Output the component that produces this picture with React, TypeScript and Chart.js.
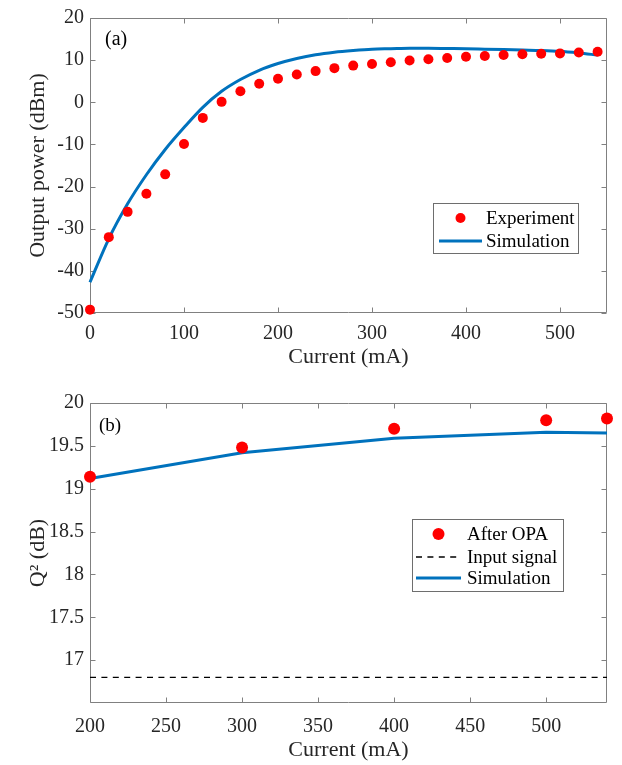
import React, { useEffect, useRef } from 'react';
import { Chart, registerables } from 'chart.js';

Chart.register(...registerables);

// ---------- Panel (a) data ----------
const currentA = [0, 20, 40, 60, 80, 100, 120, 140, 160, 180, 200, 220, 240, 260, 280, 300, 320, 340, 360, 380, 400, 420, 440, 460, 480, 500, 520, 540];
const experimentA = [-49.2, -32.0, -26.0, -21.7, -17.1, -9.9, -3.7, 0.1, 2.6, 4.4, 5.6, 6.6, 7.4, 8.1, 8.7, 9.1, 9.5, 9.9, 10.2, 10.5, 10.8, 11.0, 11.2, 11.4, 11.5, 11.6, 11.8, 12.0];
const simulationA = [-42.7, -32.4, -24.1, -17.2, -11.2, -6.0, -1.2, 2.6, 5.4, 7.6, 9.2, 10.4, 11.3, 11.9, 12.3, 12.6, 12.7, 12.8, 12.8, 12.75, 12.7, 12.6, 12.5, 12.4, 12.3, 12.1, 11.7, 11.2];
const xTicksA = [0, 100, 200, 300, 400, 500];
const yTicksA = [-50, -40, -30, -20, -10, 0, 10, 20];

// ---------- Panel (b) data ----------
const currentB = [200, 300, 400, 500, 540];
const afterOpaB = [19.14, 19.48, 19.70, 19.80, 19.82];
const simulationB = [19.12, 19.42, 19.59, 19.66, 19.65];
const inputCurrentB = [200, 540];
const inputSignalB = [16.8, 16.8];
const xTicksB = [200, 250, 300, 350, 400, 450, 500];
const yTicksB = [17, 17.5, 18, 18.5, 19, 19.5, 20];

const FONT = 'Liberation Serif';
const TEXT = '#262626';
const BOX = '#808080';
const RED = '#ff0000';
const BLUE = '#0072bd';

const matlabAxes = {
  id: 'matlabAxes',
  beforeDatasetsDraw(chart: any) {
    const { ctx, chartArea: a, scales } = chart;
    const x = scales.x, y = scales.y;
    ctx.save();
    ctx.strokeStyle = BOX;
    ctx.lineWidth = 1;
    const l = Math.round(a.left) + 0.5, r = Math.round(a.right) - 0.5;
    const t = Math.round(a.top) + 0.5, b = Math.round(a.bottom) - 0.5;
    ctx.beginPath();
    ctx.rect(l, t, r - l, b - t);
    const L = 5;
    x.ticks.forEach((tk: any) => {
      const px = Math.round(x.getPixelForValue(tk.value)) + 0.5;
      ctx.moveTo(px, b); ctx.lineTo(px, b - L);
      ctx.moveTo(px, t); ctx.lineTo(px, t + L);
    });
    y.ticks.forEach((tk: any) => {
      const py = Math.round(y.getPixelForValue(tk.value)) + 0.5;
      ctx.moveTo(l, py); ctx.lineTo(l + L, py);
      ctx.moveTo(r, py); ctx.lineTo(r - L, py);
    });
    ctx.stroke();
    ctx.restore();
  },
};

const boxLegend = {
  id: 'boxLegend',
  afterDraw(chart: any, _args: any, opts: any) {
    if (!opts || !opts.items) return;
    const { ctx } = chart;
    ctx.save();
    const [bx, by, bw, bh] = opts.box;
    ctx.fillStyle = '#ffffff';
    ctx.fillRect(bx, by, bw, bh);
    ctx.strokeStyle = '#6e6e6e';
    ctx.lineWidth = 1;
    ctx.strokeRect(bx + 0.5, by + 0.5, bw, bh);
    ctx.font = `${opts.fontSize}px "${FONT}"`;
    ctx.textBaseline = 'middle';
    ctx.textAlign = 'left';
    opts.items.forEach((it: any) => {
      const ds = chart.data.datasets[it.datasetIndex];
      if (ds.showLine === false) {
        ctx.beginPath();
        ctx.fillStyle = ds.pointBackgroundColor;
        ctx.arc((opts.lineX0 + opts.lineX1) / 2, it.y, ds.pointRadius, 0, Math.PI * 2);
        ctx.fill();
      } else {
        ctx.beginPath();
        ctx.strokeStyle = ds.borderColor;
        ctx.lineWidth = ds.borderWidth;
        ctx.setLineDash(ds.borderDash || []);
        ctx.moveTo(opts.lineX0, it.y);
        ctx.lineTo(opts.lineX1, it.y);
        ctx.stroke();
        ctx.setLineDash([]);
      }
      ctx.fillStyle = '#000000';
      ctx.fillText(ds.label, opts.textX, it.y + 1);
    });
    ctx.restore();
  },
};

const panelLabel = {
  id: 'panelLabel',
  afterDraw(chart: any, _args: any, opts: any) {
    if (!opts || !opts.text) return;
    const { ctx } = chart;
    ctx.save();
    ctx.font = `${opts.fontSize}px "${FONT}"`;
    ctx.fillStyle = '#000000';
    ctx.textBaseline = 'middle';
    ctx.fillText(opts.text, opts.x, opts.y);
    ctx.restore();
  },
};

function axisCommon(ticksArr: number[], min: number, max: number, title: string, isX: boolean, size: number, tickPad: number, titlePad: any) {
  return {
    type: 'linear',
    position: isX ? 'bottom' : 'left',
    min,
    max,
    afterBuildTicks: (s: any) => { s.ticks = ticksArr.map((v) => ({ value: v })); },
    afterFit: (s: any) => { if (isX) s.height = size; else s.width = size; },
    grid: { display: false, drawTicks: false },
    border: { display: false },
    ticks: {
      color: TEXT,
      font: { family: FONT, size: 20 },
      padding: tickPad,
      autoSkip: false,
      maxRotation: 0,
      callback: (v: any) => String(v),
    },
    title: {
      display: true,
      text: title,
      color: TEXT,
      font: { family: FONT, size: 22 },
      padding: titlePad,
    },
  };
}

function useChart(ref: React.RefObject<HTMLCanvasElement>, build: () => any) {
  useEffect(() => {
    if (!ref.current) return;
    const chart = new Chart(ref.current, build());
    return () => chart.destroy();
  }, []);
}

export default function App() {
  const refA = useRef<HTMLCanvasElement>(null);
  const refB = useRef<HTMLCanvasElement>(null);

  useChart(refA, () => ({
    type: 'scatter',
    data: {
      datasets: [
        {
          label: 'Experiment',
          data: currentA.map((x, i) => ({ x, y: experimentA[i] })),
          showLine: false,
          pointRadius: 5,
          pointBackgroundColor: RED,
          pointBorderWidth: 0,
          pointBorderColor: RED,
          clip: false,
          order: 0,
        },
        {
          label: 'Simulation',
          data: currentA.map((x, i) => ({ x, y: simulationA[i] })),
          showLine: true,
          borderColor: BLUE,
          borderWidth: 3,
          pointRadius: 0,
          cubicInterpolationMode: 'monotone',
          clip: false,
          order: 1,
        },
      ],
    },
    options: {
      animation: false,
      responsive: false,
      devicePixelRatio: 1,
      layout: { padding: { left: 0, right: 15, top: 13, bottom: 0 } },
      scales: {
        x: axisCommon(xTicksA, 0, 550, 'Current (mA)', true, 67, 9, { top: 0, bottom: 10 }),
        y: axisCommon(yTicksA, -50, 20, 'Output power (dBm)', false, 90, 6, { top: 25, bottom: 0 }),
      },
      plugins: {
        legend: { display: false },
        tooltip: { enabled: false },
        boxLegend: {
          box: [433, 203, 145, 50],
          fontSize: 19,
          lineX0: 439,
          lineX1: 482,
          textX: 486,
          items: [
            { datasetIndex: 0, y: 218 },
            { datasetIndex: 1, y: 241 },
          ],
        },
        panelLabel: { text: '(a)', x: 105, y: 40, fontSize: 20 },
      },
    },
    plugins: [matlabAxes, boxLegend, panelLabel],
  }));

  useChart(refB, () => ({
    type: 'scatter',
    data: {
      datasets: [
        {
          label: 'After OPA',
          data: currentB.map((x, i) => ({ x, y: afterOpaB[i] })),
          showLine: false,
          pointRadius: 6,
          pointBackgroundColor: RED,
          pointBorderWidth: 0,
          pointBorderColor: RED,
          clip: false,
          order: 0,
        },
        {
          label: 'Input signal',
          data: inputCurrentB.map((x, i) => ({ x, y: inputSignalB[i] })),
          showLine: true,
          borderColor: '#000000',
          borderWidth: 1.3,
          borderDash: [6, 5.4],
          pointRadius: 0,
          order: 2,
        },
        {
          label: 'Simulation',
          data: currentB.map((x, i) => ({ x, y: simulationB[i] })),
          showLine: true,
          borderColor: BLUE,
          borderWidth: 3,
          pointRadius: 0,
          tension: 0,
          clip: false,
          order: 1,
        },
      ],
    },
    options: {
      animation: false,
      responsive: false,
      devicePixelRatio: 1,
      layout: { padding: { left: 0, right: 15, top: 23, bottom: 0 } },
      scales: {
        x: axisCommon(xTicksB, 200, 540, 'Current (mA)', true, 62, 12, { top: 0, bottom: 2 }),
        y: axisCommon(yTicksB, 16.5, 20, 'Q² (dB)', false, 90, 6, { top: 25, bottom: 0 }),
      },
      plugins: {
        legend: { display: false },
        tooltip: { enabled: false },
        boxLegend: {
          box: [412, 139, 151, 72],
          fontSize: 19,
          lineX0: 416,
          lineX1: 461,
          textX: 467,
          items: [
            { datasetIndex: 0, y: 154 },
            { datasetIndex: 1, y: 177 },
            { datasetIndex: 2, y: 198 },
          ],
        },
        panelLabel: { text: '(b)', x: 99, y: 46, fontSize: 19 },
      },
    },
    plugins: [matlabAxes, boxLegend, panelLabel],
  }));

  return (
    <div style={{ position: 'absolute', left: 0, top: 0, width: 622, height: 765, background: '#ffffff' }}>
      <canvas ref={refA} width={622} height={380} style={{ position: 'absolute', left: 0, top: 0, display: 'block' }} />
      <canvas ref={refB} width={622} height={385} style={{ position: 'absolute', left: 0, top: 380, display: 'block' }} />
    </div>
  );
}
